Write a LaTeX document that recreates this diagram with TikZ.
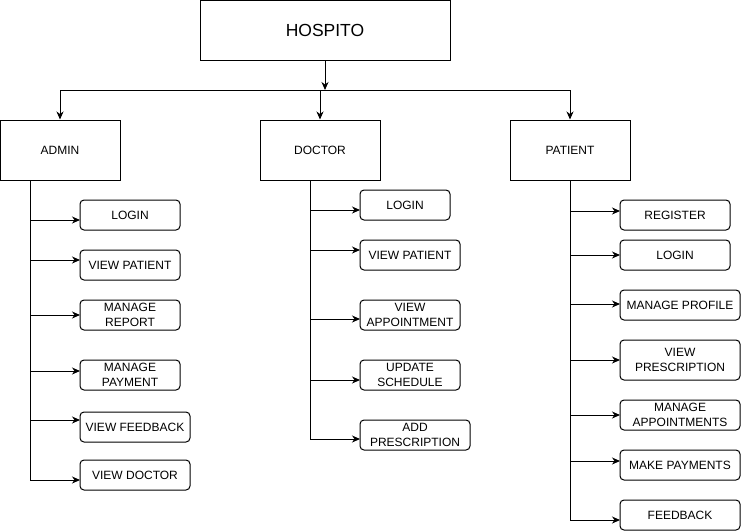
\documentclass[tikz,border=0pt]{standalone}
\usepackage{fontspec}
\setmainfont{Liberation Sans}
\usetikzlibrary{positioning,arrows.meta,calc}

\begin{document}
\begin{tikzpicture}[
  x=1pt,y=-1pt,
  role/.style={draw,line width=1pt,minimum width=120pt,minimum height=60pt,inner sep=0pt,font=\fontsize{12}{14.5}\selectfont},
  task/.style={draw,line width=1pt,rounded corners=4pt,minimum height=30pt,inner sep=0pt,outer sep=0pt,align=center,font=\fontsize{12}{14.5}\selectfont},
  arr/.style={-{Stealth[length=8pt,width=7pt,inset=2.5pt]},line width=1pt}
]
  \useasboundingbox (0,0) rectangle (741,531);
  % top level
  \node[role,minimum width=250pt,font=\fontsize{17.5}{20}\selectfont] (hosp) at (325,30) {HOSPITO};
  \node[role] (admin) at (60,150) {ADMIN};
  \node[role] (doctor) at (320,150) {DOCTOR};
  \node[role] (patient) at (570,150) {PATIENT};
  \coordinate (hub) at (325,90);
  \draw[arr] (hosp) -- (hub);
  \draw[arr] (hub) -| (admin);
  \draw[arr] (hub) -| (patient);
  \draw[arr] (hub -| doctor) -- (doctor);

  % admin
  \node[task,minimum width=100pt,anchor=north west] (a1) at (80,200) {LOGIN};
  \node[task,minimum width=100pt,below=20pt of a1.south west,anchor=north west] (a2) {VIEW PATIENT};
  \node[task,minimum width=100pt,below=20pt of a2.south west,anchor=north west] (a3) {MANAGE\\REPORT};
  \node[task,minimum width=100pt,below=30pt of a3.south west,anchor=north west] (a4) {MANAGE\\PAYMENT};
  \node[task,minimum width=110pt,below=22pt of a4.south west,anchor=north west] (a5) {VIEW FEEDBACK};
  \node[task,minimum width=110pt,below=18pt of a5.south west,anchor=north west] (a6) {VIEW DOCTOR};
  \coordinate (ta) at ([xshift=-30pt]admin.south);
  \foreach \t/\s in {a1/-5,a2/5,a3/0,a4/4,a5/7,a6/-5}
    \draw[arr] (ta) |- ([yshift=\s pt]\t.west);

  % doctor
  \node[task,minimum width=90pt,anchor=north west] (d1) at (360,190) {LOGIN};
  \node[task,minimum width=100pt,below=20pt of d1.south west,anchor=north west] (d2) {VIEW PATIENT};
  \node[task,minimum width=100pt,below=30pt of d2.south west,anchor=north west] (d3) {VIEW\\APPOINTMENT};
  \node[task,minimum width=100pt,below=30pt of d3.south west,anchor=north west] (d4) {UPDATE\\SCHEDULE};
  \node[task,minimum width=110pt,below=30pt of d4.south west,anchor=north west] (d5) {ADD\\PRESCRIPTION};
  \coordinate (td) at ([xshift=-10pt]doctor.south);
  \foreach \t/\s in {d1/-5,d2/5,d3/-4,d4/-5,d5/-4}
    \draw[arr] (td) |- ([yshift=\s pt]\t.west);

  % patient
  \node[task,minimum width=110pt,anchor=north west] (p1) at (620,200) {REGISTER};
  \node[task,minimum width=110pt,below=10pt of p1.south west,anchor=north west] (p2) {LOGIN};
  \node[task,minimum width=120pt,below=20pt of p2.south west,anchor=north west] (p3) {MANAGE PROFILE};
  \node[task,minimum width=120pt,minimum height=40pt,below=20pt of p3.south west,anchor=north west] (p4) {VIEW\\PRESCRIPTION};
  \node[task,minimum width=120pt,below=20pt of p4.south west,anchor=north west] (p5) {MANAGE\\APPOINTMENTS};
  \node[task,minimum width=120pt,below=20pt of p5.south west,anchor=north west] (p6) {MAKE PAYMENTS};
  \node[task,minimum width=120pt,below=20pt of p6.south west,anchor=north west] (p7) {FEEDBACK};
  \coordinate (tp) at (patient.south);
  \foreach \t/\s in {p1/4,p2/0,p3/1,p4/0,p5/0,p6/4,p7/-5}
    \draw[arr] (tp) |- ([yshift=\s pt]\t.west);
\end{tikzpicture}
\end{document}
